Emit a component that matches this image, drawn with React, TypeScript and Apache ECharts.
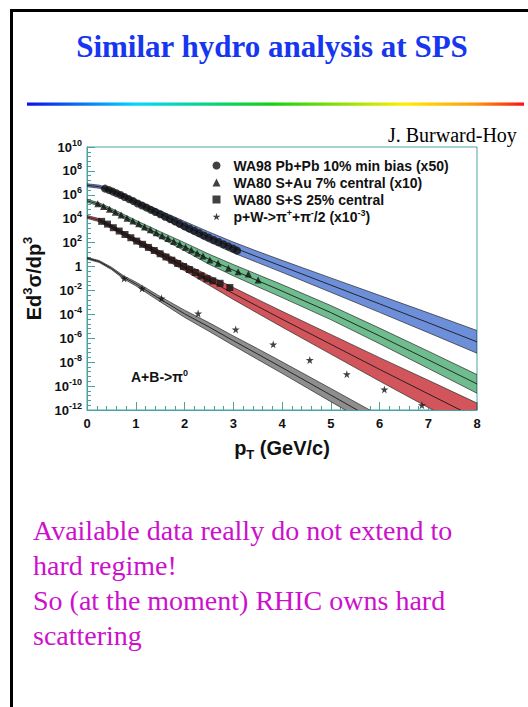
import { useEffect, useRef } from 'react';
import * as echarts from 'echarts';

// ---------- data (y values are log10 of E d3sigma/dp3) ----------
const pTTicks = [0, 1, 2, 3, 4, 5, 6, 7, 8];
const log10Ticks = [-12, -10, -8, -6, -4, -2, 0, 2, 4, 6, 8, 10];

const seriesNames = [
  'WA98 Pb+Pb 10% min bias (x50)',
  'WA80 S+Au 7% central (x10)',
  'WA80 S+S 25% central',
  'p+W->pi+ +pi-/2 (x10-3)',
];

// hydro bands: centre and half-width (decades) on a common pT grid
const bandPt = [0, 0.25, 0.5, 0.75, 1, 1.5, 2, 2.5, 3, 3.5, 4, 5, 6, 7, 8];
const pbBandLog = [6.8, 6.68, 6.35, 5.9, 5.4, 4.42, 3.42, 2.48, 1.6, 0.8, 0.02, -1.55, -3.12, -4.7, -6.3];
const pbBandHalf = [0.12, 0.13, 0.15, 0.17, 0.19, 0.26, 0.36, 0.42, 0.45, 0.47, 0.5, 0.6, 0.71, 0.83, 0.95];
const sauBandLog = [5.5, 5.2, 4.72, 4.2, 3.68, 2.66, 1.66, 0.62, -0.3, -1.18, -2.05, -3.85, -5.8, -7.8, -9.82];
const sauBandHalf = [0.12, 0.13, 0.15, 0.17, 0.19, 0.26, 0.34, 0.42, 0.47, 0.51, 0.54, 0.59, 0.65, 0.72, 0.78];
const ssBandLog = [4.15, 3.88, 3.35, 2.75, 2.17, 1.07, -0.05, -1.15, -2.25, -3.33, -4.4, -6.5, -8.6, -10.65, -12.7];
const ssBandHalf = [0.12, 0.13, 0.15, 0.17, 0.19, 0.24, 0.3, 0.4, 0.5, 0.58, 0.66, 0.82, 0.98, 1.14, 1.28];
const pwBandLog = [0.7, 0.42, -0.15, -0.9, -1.45, -2.72, -3.95, -5.05, -6.2, -7.32, -8.45, -10.75, -13.05];
const pwBandHalf = [0.07, 0.08, 0.1, 0.13, 0.16, 0.22, 0.3, 0.36, 0.4, 0.45, 0.48, 0.55, 0.6];

// measured points
const pbPt = [0.37, 0.45, 0.53, 0.61, 0.69, 0.77, 0.86, 0.95, 1.04, 1.13, 1.22, 1.31, 1.4, 1.5, 1.6, 1.7, 1.8, 1.9, 2.0, 2.1, 2.2, 2.3, 2.4, 2.5, 2.6, 2.7, 2.8, 2.9, 3.0, 3.08];
const pbLog = [6.52, 6.4, 6.27, 6.12, 5.98, 5.82, 5.64, 5.47, 5.28, 5.11, 4.93, 4.74, 4.57, 4.37, 4.17, 3.97, 3.78, 3.57, 3.37, 3.18, 2.99, 2.8, 2.6, 2.42, 2.22, 2.05, 1.87, 1.69, 1.5, 1.33];

const sauPt = [0.22, 0.34, 0.46, 0.58, 0.7, 0.82, 0.94, 1.06, 1.18, 1.3, 1.42, 1.54, 1.66, 1.78, 1.9, 2.02, 2.14, 2.26, 2.38, 2.52, 2.69, 2.9, 3.1, 3.31, 3.51];
const sauLog = [5.25, 5.02, 4.8, 4.55, 4.31, 4.05, 3.8, 3.57, 3.31, 3.07, 2.83, 2.58, 2.35, 2.1, 1.86, 1.62, 1.38, 1.12, 0.88, 0.55, 0.27, -0.15, -0.43, -0.63, -1.13];

const ssPt = [0.3, 0.42, 0.54, 0.66, 0.78, 0.9, 1.02, 1.14, 1.26, 1.38, 1.5, 1.62, 1.74, 1.86, 1.98, 2.1, 2.22, 2.34, 2.46, 2.58, 2.73, 2.93];
const ssLog = [3.78, 3.55, 3.25, 2.97, 2.68, 2.41, 2.13, 1.86, 1.6, 1.34, 1.07, 0.8, 0.53, 0.26, 0.0, -0.25, -0.5, -0.78, -1.02, -1.2, -1.4, -1.75];

const pwPt = [0.76, 1.13, 1.53, 2.28, 3.05, 3.82, 4.57, 5.33, 6.1, 6.87];
const pwLog = [-0.99, -1.83, -2.66, -3.93, -5.26, -6.51, -7.82, -9.0, -10.28, -11.6];

// ---------- styling constants ----------
const AXIS = '#4aa3a3';
const INK = '#111111';
const SANS = 'Liberation Sans, Arial, sans-serif';
const SERIF = 'Liberation Serif, Times New Roman, serif';
const STAR = 'path://M50,0 L61,35 L98,35 L68,57 L79,91 L50,70 L21,91 L32,57 L2,35 L39,35 Z';

const makeBand = (name: string, center: number[], half: number[], fill: string) => ({
  type: 'custom',
  name,
  clip: true,
  silent: true,
  z: 1,
  data: [[0, 0]],
  renderItem: (_p: any, api: any) => {
    const up: number[][] = [];
    const lo: number[][] = [];
    const mid: number[][] = [];
    center.forEach((c, i) => {
      const x = bandPt[i];
      up.push(api.coord([x, c + half[i]]));
      lo.push(api.coord([x, c - half[i]]));
      mid.push(api.coord([x, c]));
    });
    return {
      type: 'group',
      children: [
        {
          type: 'polygon',
          shape: { points: up.concat(lo.slice().reverse()) },
          style: { fill, stroke: '#2a2a2a', lineWidth: 0.7 },
        },
        {
          type: 'polyline',
          shape: { points: mid },
          style: { fill: null, stroke: '#1a1a1a', lineWidth: 0.9 },
        },
      ],
    };
  },
});

const pairs = (xs: number[], ys: number[]) => xs.map((x, i) => [x, ys[i]]);

export default function App() {
  const ref = useRef<HTMLDivElement>(null);

  useEffect(() => {
    if (!ref.current) return;
    const chart = echarts.init(ref.current, null, { renderer: 'svg' });

    const legendRich = {
      g: { width: 8, fontFamily: SANS, fontWeight: 'bold', fontSize: 14, color: INK, lineHeight: 17, verticalAlign: 'middle' },
      n: { fontFamily: SANS, fontWeight: 'bold', fontSize: 14, color: INK, lineHeight: 17, verticalAlign: 'middle' },
      s: { fontFamily: SANS, fontWeight: 'bold', fontSize: 9, color: INK, lineHeight: 9, verticalAlign: 'top' },
    };

    chart.setOption({
      animation: false,
      backgroundColor: '#ffffff',
      title: {
        text: 'Similar hydro analysis at SPS',
        left: 267,
        top: 26,
        textAlign: 'center',
        textStyle: { fontFamily: SERIF, fontWeight: 'bold', fontSize: 31, color: '#1636f0' },
      },
      grid: {
        left: 87,
        top: 147,
        width: 390,
        height: 263,
        show: true,
        borderColor: AXIS,
        borderWidth: 1,
        backgroundColor: 'transparent',
      },
      legend: {
        orient: 'vertical',
        left: 207.5,
        top: 152,
        itemWidth: 8,
        itemHeight: 8,
        itemGap: 0,
        data: seriesNames,
        formatter: (name: string) => {
          if (name === seriesNames[3]) {
            return '{g| }{n|p+W->π}{s|+}{n|+π}{s|-}{n|/2 (x10}{s|-3}{n|)}';
          }
          return `{g| }{n|${name}}`;
        },
        textStyle: { fontFamily: SANS, fontWeight: 'bold', fontSize: 14, lineHeight: 17, color: INK, rich: legendRich },
      },
      xAxis: {
        type: 'value',
        min: pTTicks[0],
        max: pTTicks[pTTicks.length - 1],
        interval: 1,
        name: '{m|p}{t|T}{m| (GeV/c)}',
        nameLocation: 'middle',
        nameGap: 25,
        nameTextStyle: {
          rich: {
            m: { fontFamily: SANS, fontWeight: 'bold', fontSize: 20, color: INK, lineHeight: 26, verticalAlign: 'middle' },
            t: { fontFamily: SANS, fontWeight: 'bold', fontSize: 13, color: INK, lineHeight: 13, verticalAlign: 'bottom' },
          },
        },
        axisLine: { show: true, onZero: false, lineStyle: { color: AXIS, width: 1 } },
        axisTick: { show: true, inside: true, length: 8, lineStyle: { color: AXIS } },
        minorTick: { show: true, splitNumber: 5, length: 4, lineStyle: { color: AXIS } },
        splitLine: { show: false },
        axisLabel: { margin: 7, fontFamily: SANS, fontWeight: 'bold', fontSize: 13, color: INK },
      },
      yAxis: {
        type: 'value',
        min: log10Ticks[0],
        max: log10Ticks[log10Ticks.length - 1],
        interval: 2,
        name: '{m|Ed}{s|3}{m|σ/dp}{s|3}',
        nameLocation: 'middle',
        nameRotate: 90,
        nameGap: 38,
        nameTextStyle: {
          rich: {
            m: { fontFamily: SANS, fontWeight: 'bold', fontSize: 20, color: INK, lineHeight: 26, verticalAlign: 'middle' },
            s: { fontFamily: SANS, fontWeight: 'bold', fontSize: 13, color: INK, lineHeight: 13, verticalAlign: 'top' },
          },
        },
        axisLine: { show: true, onZero: false, lineStyle: { color: AXIS, width: 1 } },
        axisTick: { show: true, inside: true, length: 8, lineStyle: { color: AXIS } },
        minorTick: { show: true, splitNumber: 5, length: 4, lineStyle: { color: AXIS } },
        splitLine: { show: false },
        axisLabel: {
          margin: 5,
          formatter: (v: number) => (Math.round(v) === 0 ? '{b|1}' : `{b|10}{s|${Math.round(v)}}`),
          rich: {
            b: { fontFamily: SANS, fontWeight: 'bold', fontSize: 13, color: INK, lineHeight: 18, verticalAlign: 'middle' },
            s: { fontFamily: SANS, fontWeight: 'bold', fontSize: 9, color: INK, lineHeight: 9, verticalAlign: 'top' },
          },
        },
      },
      graphic: [
        {
          type: 'rect',
          shape: { x: 11.5, y: 10.5, width: 620, height: 800 },
          style: { fill: 'none', stroke: '#000000', lineWidth: 3 },
          silent: true,
        },
        {
          type: 'rect',
          shape: { x: 27, y: 102.5, width: 497, height: 3.2 },
          style: {
            fill: {
              type: 'linear', x: 0, y: 0, x2: 1, y2: 0,
              colorStops: [
                { offset: 0, color: '#1010e8' },
                { offset: 0.22, color: '#00d8ff' },
                { offset: 0.49, color: '#10d010' },
                { offset: 0.76, color: '#ffee00' },
                { offset: 0.9, color: '#ff9a10' },
                { offset: 1, color: '#ff1010' },
              ],
            },
          },
          silent: true,
        },
        {
          type: 'text',
          x: 388,
          y: 134.5,
          style: { text: 'J. Burward-Hoy', fontFamily: SERIF, fontSize: 20, fill: '#000000', verticalAlign: 'middle' },
          silent: true,
        },
        {
          type: 'text',
          x: 131,
          y: 377,
          style: {
            text: '{n|A+B->π}{s|0}',
            verticalAlign: 'middle',
            rich: {
              n: { fontFamily: SANS, fontWeight: 'bold', fontSize: 14, fill: INK, lineHeight: 18, verticalAlign: 'middle' },
              s: { fontFamily: SANS, fontWeight: 'bold', fontSize: 9, fill: INK, lineHeight: 9, verticalAlign: 'top' },
            },
          },
          silent: true,
        },
        {
          type: 'text',
          x: 33,
          y: 513,
          style: {
            text: 'Available data really do not extend to\nhard regime!\nSo (at the moment) RHIC owns hard\nscattering',
            fontFamily: SERIF,
            fontSize: 28,
            lineHeight: 35,
            fill: '#cc10cc',
            verticalAlign: 'top',
          },
          silent: true,
        },
      ],
      series: [
        makeBand('band-pb', pbBandLog, pbBandHalf, '#6d8ed9'),
        makeBand('band-sau', sauBandLog, sauBandHalf, '#6fbd8f'),
        makeBand('band-ss', ssBandLog, ssBandHalf, '#d1555a'),
        makeBand('band-pw', pwBandLog, pwBandHalf, '#8e8e8e'),
        {
          type: 'scatter', name: seriesNames[0], symbol: 'circle', symbolSize: 8, z: 3,
          itemStyle: { color: INK }, data: pairs(pbPt, pbLog),
        },
        {
          type: 'scatter', name: seriesNames[1], symbol: 'triangle', symbolSize: 7, z: 3,
          itemStyle: { color: INK }, data: pairs(sauPt, sauLog),
        },
        {
          type: 'scatter', name: seriesNames[2], symbol: 'rect', symbolSize: 7, z: 3,
          itemStyle: { color: INK }, data: pairs(ssPt, ssLog),
        },
        {
          type: 'scatter', name: seriesNames[3], symbol: STAR, symbolSize: 8, z: 3,
          itemStyle: { color: INK }, data: pairs(pwPt, pwLog),
        },
      ],
    });

    return () => chart.dispose();
  }, []);

  return (
    <div
      ref={ref}
      style={{ position: 'absolute', left: 0, top: 0, width: 528, height: 707, background: '#fff' }}
    />
  );
}
